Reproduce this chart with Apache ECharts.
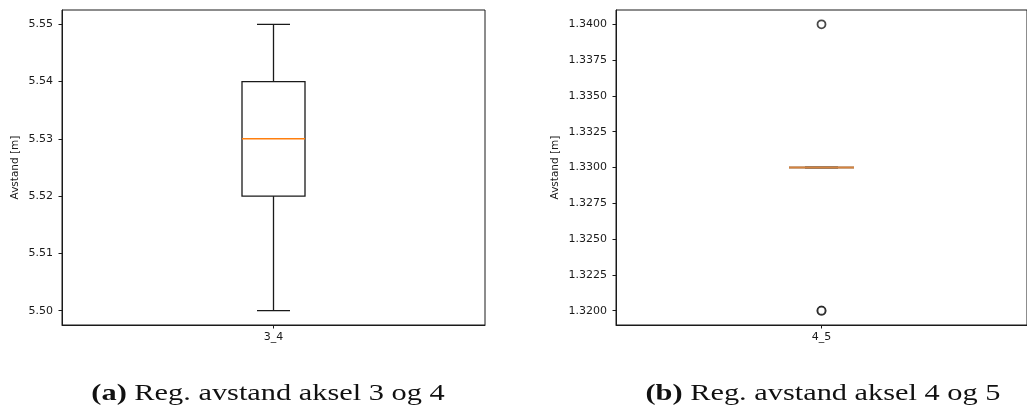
<!DOCTYPE html>
<html>
<head>
<meta charset="utf-8">
<script src="https://cdn.jsdelivr.net/npm/echarts@6/dist/echarts.min.js"></script>
<style>
  html, body { margin: 0; padding: 0; background: #fff; }
  #chart { width: 1027px; height: 415px; }
</style>
</head>
<body>
<div id="chart"></div>
<script>
// Box statistics per measurement: [min, q1, median, q3, max]
const categoriesA = ['3_4'];
const statsA = [[5.50, 5.52, 5.53, 5.54, 5.55]];
const outliersA = [];
const ticksA = [5.50, 5.51, 5.52, 5.53, 5.54, 5.55];

const categoriesB = ['4_5'];
const statsB = [[1.33, 1.33, 1.33, 1.33, 1.33]];
const outliersB = [1.34, 1.32, 1.32];
const ticksB = [1.3200, 1.3225, 1.3250, 1.3275, 1.3300, 1.3325, 1.3350, 1.3375, 1.3400];

const captionA = 'Reg. avstand aksel 3 og 4';
const captionB = 'Reg. avstand aksel 4 og 5';
const yName = 'Avstand [m]';

const TICK_FONT = 'DejaVu Sans';
const INK = '#1a1a1a';

// Pad the value range by 5% on each side, like a default box plot.
function paddedRange(ticks) {
  const lo = ticks[0], hi = ticks[ticks.length - 1];
  const pad = (hi - lo) * 0.05;
  return [lo - pad, hi + pad];
}

function boxRenderer(boxWidth, capWidth, medianColor, medianWidth) {
  return function (params, api) {
    const x = api.value(0);
    const pMin = api.coord([x, api.value(1)]);
    const pQ1 = api.coord([x, api.value(2)]);
    const pMed = api.coord([x, api.value(3)]);
    const pQ3 = api.coord([x, api.value(4)]);
    const pMax = api.coord([x, api.value(5)]);
    const cx = pMed[0];
    const hb = boxWidth / 2, hc = capWidth / 2;
    const line = { stroke: INK, lineWidth: 1.3, fill: null };
    return {
      type: 'group',
      children: [
        { type: 'line', shape: { x1: cx, y1: pQ1[1], x2: cx, y2: pMin[1] }, style: line },
        { type: 'line', shape: { x1: cx, y1: pQ3[1], x2: cx, y2: pMax[1] }, style: line },
        { type: 'line', shape: { x1: cx - hc, y1: pMin[1], x2: cx + hc, y2: pMin[1] }, style: line },
        { type: 'line', shape: { x1: cx - hc, y1: pMax[1], x2: cx + hc, y2: pMax[1] }, style: line },
        { type: 'rect', shape: { x: cx - hb, y: pQ3[1], width: boxWidth, height: pQ1[1] - pQ3[1] }, style: line },
        { type: 'line', shape: { x1: cx - hb, y1: pMed[1], x2: cx + hb, y2: pMed[1] },
          style: { stroke: medianColor, lineWidth: medianWidth } }
      ]
    };
  };
}

function yAxisFor(gridIndex, ticks, decimals, nameGap) {
  const r = paddedRange(ticks);
  return {
    type: 'value', gridIndex, min: r[0], max: r[1],
    name: yName, nameLocation: 'middle', nameGap,
    nameTextStyle: { fontFamily: TICK_FONT, fontSize: 10.5, color: INK },
    axisLine: { show: true, lineStyle: { color: INK, width: 1 } },
    axisTick: { show: true, length: 3.5, customValues: ticks, lineStyle: { color: INK } },
    axisLabel: { customValues: ticks, margin: 9, fontFamily: TICK_FONT, fontSize: 11, color: INK,
                 formatter: v => Number(v).toFixed(decimals) },
    splitLine: { show: false }
  };
}

function xAxisFor(gridIndex, cats) {
  return {
    type: 'category', gridIndex, data: cats, boundaryGap: true,
    axisLine: { show: true, lineStyle: { color: INK, width: 1 } },
    axisTick: { show: true, alignWithLabel: true, length: 3.5, lineStyle: { color: INK } },
    axisLabel: { margin: 7, fontFamily: TICK_FONT, fontSize: 11, color: INK },
    splitLine: { show: false }
  };
}

const toRows = (stats) => stats.map((s, i) => [i].concat(s));
const toPoints = (vals) => vals.map(v => [0, v]);

// Sub-figure caption, centred under its panel and widened a little.
function caption(x, tag, text) {
  return {
    type: 'text', x, y: 394, scaleX: 1.32,
    style: { text: '{b|' + tag + '} ' + text, align: 'center', verticalAlign: 'middle',
             fontFamily: 'Liberation Serif', fontSize: 23, fill: '#111',
             rich: { b: { fontWeight: 'bold', fontFamily: 'Liberation Serif', fontSize: 23 } } }
  };
}

const chart = echarts.init(document.getElementById('chart'), null, { renderer: 'canvas' });
chart.setOption({
  animation: false,
  backgroundColor: '#fff',
  grid: [
    { left: 62, top: 10, width: 423, height: 315, show: true, borderColor: INK, borderWidth: 1 },
    { left: 616, top: 10, width: 423, height: 315, show: true, borderColor: INK, borderWidth: 1 }
  ],
  xAxis: [xAxisFor(0, categoriesA), xAxisFor(1, categoriesB)],
  yAxis: [yAxisFor(0, ticksA, 2, 41), yAxisFor(1, ticksB, 4, 55)],
  series: [
    { type: 'custom', xAxisIndex: 0, yAxisIndex: 0, data: toRows(statsA),
      renderItem: boxRenderer(63, 33, '#ff7f0e', 1.5), encode: { x: 0, y: [1, 2, 3, 4, 5] } },
    { type: 'scatter', xAxisIndex: 0, yAxisIndex: 0, data: toPoints(outliersA),
      symbol: 'circle', symbolSize: 8, itemStyle: { color: '#fff', borderColor: INK, borderWidth: 1.8 } },
    { type: 'custom', xAxisIndex: 1, yAxisIndex: 1, data: toRows(statsB),
      renderItem: boxRenderer(65, 33, '#d5833e', 2.2), encode: { x: 0, y: [1, 2, 3, 4, 5] } },
    { type: 'scatter', xAxisIndex: 1, yAxisIndex: 1, data: toPoints(outliersB),
      symbol: 'circle', symbolSize: 8, itemStyle: { color: '#fff', borderColor: INK, borderWidth: 1.8 } }
  ],
  graphic: [
    caption(268, '(a)', captionA),
    caption(823, '(b)', captionB)
  ]
});
</script>
</body>
</html>
